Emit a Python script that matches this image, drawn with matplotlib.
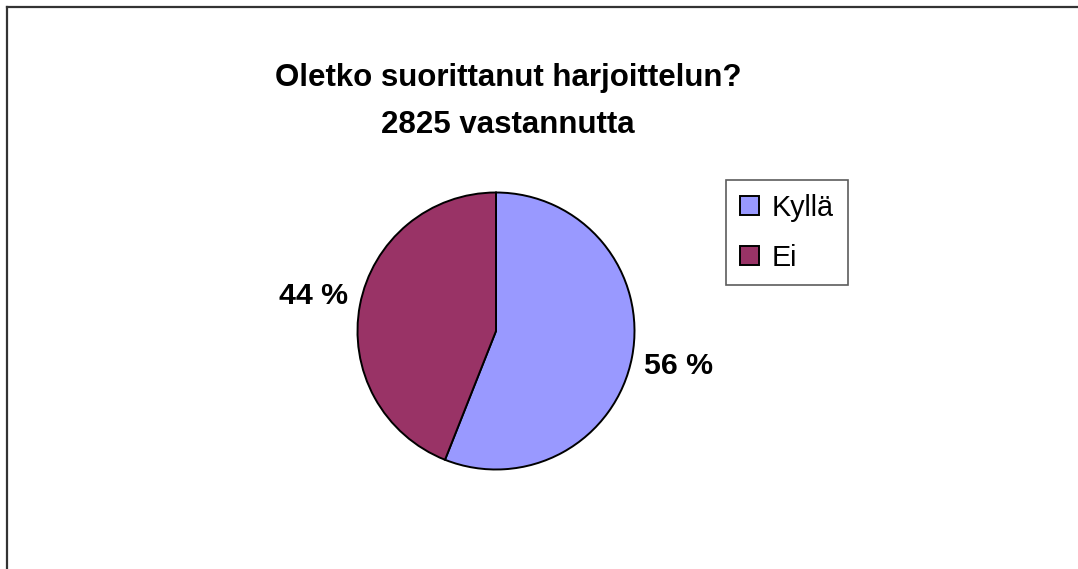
import matplotlib
matplotlib.use('Agg')
import matplotlib.pyplot as plt
from matplotlib.lines import Line2D

plt.rcParams['font.family'] = ['Liberation Sans', 'DejaVu Sans']

# data
categories = ['Kyllä', 'Ei']
percent = [56, 44]
colors = ['#9999FF', '#993366']
title = 'Oletko suorittanut harjoittelun?\n2825 vastannutta'

W, H = 1078, 569
fig = plt.figure(figsize=(W / 100, H / 100), dpi=100)

# outer chart border (top and left only visible, rest cut off)
fig.add_artist(Line2D([7 / W, 1], [1 - 7 / H, 1 - 7 / H], color='#333333', lw=1.6, transform=fig.transFigure))
fig.add_artist(Line2D([7 / W, 7 / W], [0, 1 - 7 / H], color='#333333', lw=1.6, transform=fig.transFigure))

# pie axes, centre (496, 331), radius 138.5 px
cx, cy, r = 496, 331, 138.5
ax = fig.add_axes([(cx - r) / W, (H - cy - r) / H, 2 * r / W, 2 * r / H])
labels = [str(p) + ' %' for p in percent]
wedges, texts = ax.pie(percent, colors=colors, startangle=90, counterclock=False,
                       labels=labels, labeldistance=1.34,
                       wedgeprops=dict(edgecolor='black', linewidth=1.4),
                       textprops=dict(fontsize=21.8, fontweight='bold'))
for t in texts:
    t.set_ha('center')
    t.set_va('center')
ax.set_xlim(-1, 1)
ax.set_ylim(-1, 1)
ax.axis('off')

fig.text(508 / W, 1 - 101.5 / H, title, ha='center', va='center',
         fontsize=22.5, fontweight='bold', linespacing=1.72)

leg = fig.legend(wedges, categories, loc='upper left',
                 bbox_to_anchor=(726 / W, 1 - 180 / H), fontsize=20.7,
                 frameon=True, fancybox=False, shadow=False,
                 handlelength=0.66, handleheight=0.66, handletextpad=0.45,
                 labelspacing=0.76, borderpad=0.48, borderaxespad=0)
leg.get_frame().set_edgecolor('#333333')
leg.get_frame().set_linewidth(1.2)

fig.savefig('out.png', dpi=100)
